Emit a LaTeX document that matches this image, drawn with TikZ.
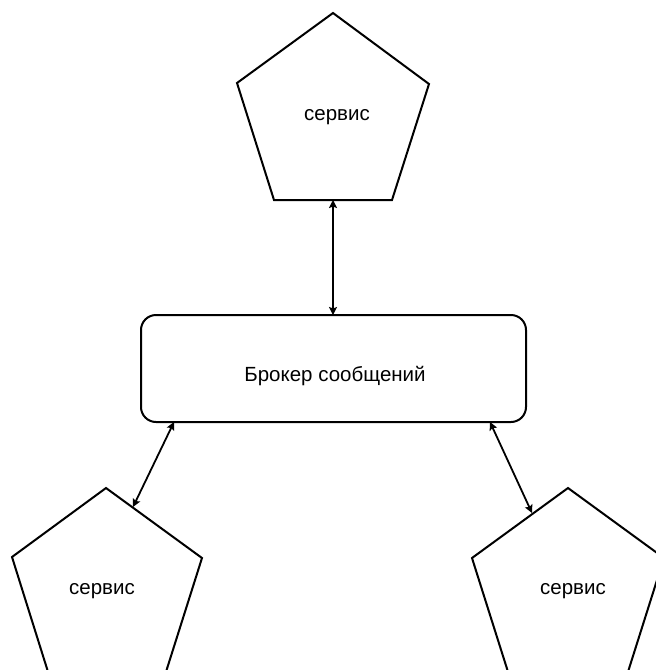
\documentclass[tikz,border=0pt]{standalone}
\usepackage{fontspec}
\setmainfont{Liberation Sans}
\usetikzlibrary{arrows.meta}
\tikzset{
  shape line/.style={draw=black, line width=2pt, line join=miter},
  tip/.style={Stealth[length=8pt,width=8pt,inset=1.5pt]},
  link/.style={draw=black, line width=1.8pt, {Stealth[length=8pt,width=8pt,inset=1.5pt]}-{Stealth[length=8pt,width=8pt,inset=1.5pt]}},
  label text/.style={font=\fontsize{20.5}{24}\selectfont, inner sep=0pt},
  brokerbox/.style={draw=black, line width=2pt, rounded corners=15pt, minimum width=385pt, minimum height=107pt, inner sep=0pt}
}
\begin{document}
\begin{tikzpicture}[x=1pt,y=-1pt]
\useasboundingbox (0,0) rectangle (656,670);
\clip (0,0) rectangle (656,670);
\fill[white] (0,0) rectangle (656,670);
% top service
\coordinate (t1) at (333,13);
\coordinate (t2) at (429,84);
\coordinate (t3) at (392,200);
\coordinate (t4) at (274,200);
\coordinate (t5) at (237,83);
\draw[shape line] (t1) -- (t2) -- (t3) -- (t4) -- (t5) -- cycle;
\node[label text] (toptext) at (337,117) {сервис};
% bottom-left service
\coordinate (l1) at (106,488);
\coordinate (l2) at (202,558);
\coordinate (l3) at (165,675);
\coordinate (l4) at (49,675);
\coordinate (l5) at (12,557);
\draw[shape line] (l1) -- (l2) -- (l3) -- (l4) -- (l5) -- cycle;
\node[label text] (lefttext) at (102,591) {сервис};
% bottom-right service
\coordinate (r1) at (568,488);
\coordinate (r2) at (664,558);
\coordinate (r3) at (627,675);
\coordinate (r4) at (509,675);
\coordinate (r5) at (472,558);
\draw[shape line] (r1) -- (r2) -- (r3) -- (r4) -- (r5) -- cycle;
\node[label text] (righttext) at (573,591) {сервис};
% broker
\node[brokerbox] (broker) at (333.5,368.5) {};
\node[label text] (brokertext) at (335,376) {Брокер сообщений};
% connectors
\coordinate (topend) at (333,200);
\coordinate (brokertop) at (333,315);
\coordinate (brokerbl) at (174,422);
\coordinate (leftend) at (133,507);
\coordinate (brokerbr) at (490,422);
\coordinate (rightend) at (532,513);
\draw[link] (topend) -- (brokertop);
\draw[link] (brokerbl) -- (leftend);
\draw[link] (brokerbr) -- (rightend);
\end{tikzpicture}
\end{document}
